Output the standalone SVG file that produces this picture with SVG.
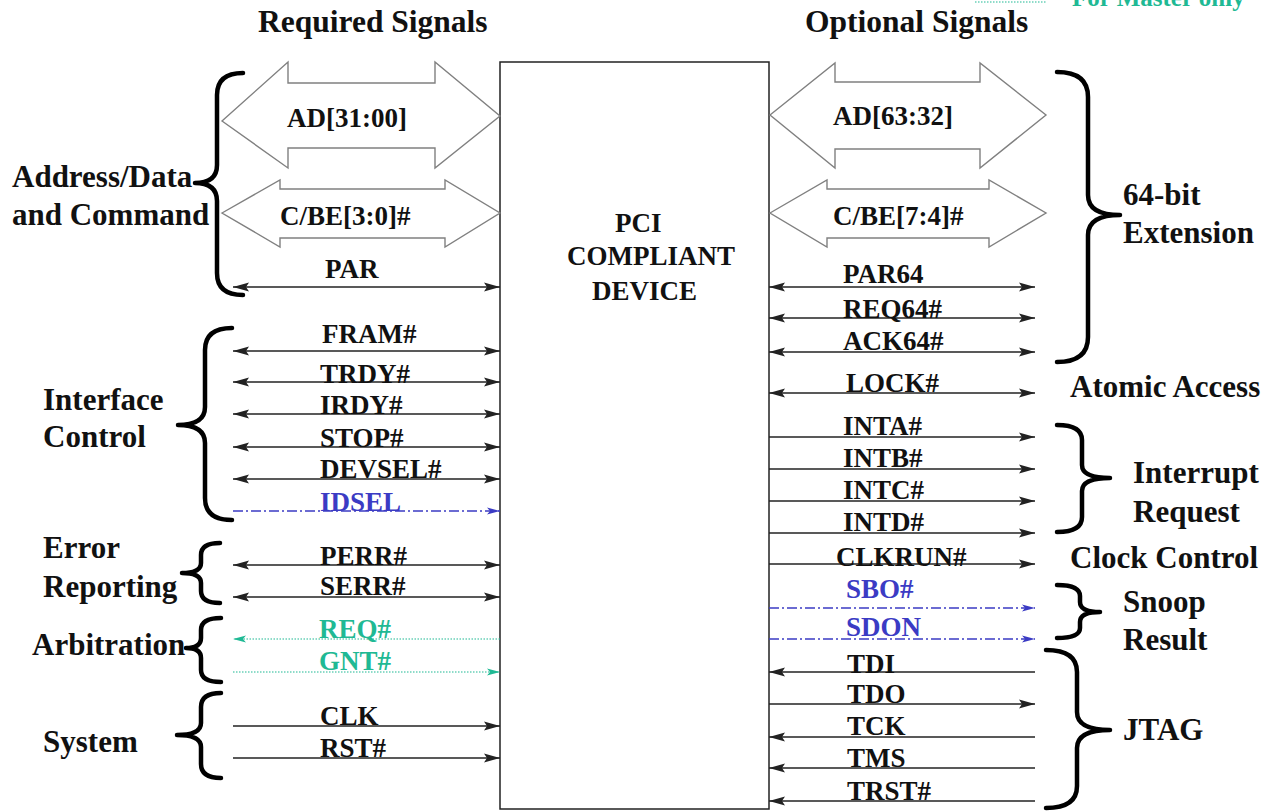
<svg xmlns="http://www.w3.org/2000/svg" width="1286" height="811" viewBox="0 0 1286 811" font-family="'Liberation Serif', 'Times New Roman', 'DejaVu Serif', serif">
<style>
text{font-family:'Liberation Serif','Times New Roman','DejaVu Serif',serif;font-weight:bold;fill:#111}
.t{font-size:31.5px}
.g{font-size:31px}
.s{font-size:27px}
.blue{fill:#3b3bc4}
.teal{fill:#1fb994}
.bus{fill:#fff;stroke:#808080;stroke-width:1.4}
.w{stroke:#222;stroke-width:1.5;fill:none}
.wb{stroke:#3b3bc4;stroke-width:1.3;fill:none;stroke-dasharray:10 3 2 3}
.wt{stroke:#1fb994;stroke-width:1.2;fill:none;stroke-dasharray:1.5 1.5}
.br{stroke:#000;stroke-width:4.5;fill:none;stroke-linecap:round;stroke-linejoin:round}
</style>
<defs>
<marker id="ah" markerUnits="userSpaceOnUse" markerWidth="16" markerHeight="10" viewBox="0 -5 16 10" refX="16" refY="0" orient="auto-start-reverse"><path d="M0,-4.5 L16,0 L0,4.5 L3,0 Z" fill="#222"/></marker>
<marker id="ahb" markerUnits="userSpaceOnUse" markerWidth="13" markerHeight="8" viewBox="0 -4 13 8" refX="13" refY="0" orient="auto-start-reverse"><path d="M0,-3.5 L13,0 L0,3.5 L3,0 Z" fill="#3b3bc4"/></marker>
<marker id="aht" markerUnits="userSpaceOnUse" markerWidth="13" markerHeight="8" viewBox="0 -4 13 8" refX="13" refY="0" orient="auto-start-reverse"><path d="M0,-3.5 L13,0 L0,3.5 L3,0 Z" fill="#1fb994"/></marker>
</defs>
<rect width="1286" height="811" fill="#fff"/>

<g id="titles">
<text class="t" x="258" y="32">Required Signals</text>
<text class="t" x="805" y="32">Optional Signals</text>
</g>
<g id="legend">
<line x1="975" y1="2" x2="1047" y2="2" class="wt"/>
<text class="teal" x="1072" y="6" style="font-size:25px">For Master only</text>
</g>

<g id="device">
<rect x="500" y="62" width="269" height="747" fill="#fff" stroke="#222" stroke-width="1.5"/>
<text class="s" x="615" y="232">PCI</text>
<text class="s" x="567" y="265">COMPLIANT</text>
<text class="s" x="592" y="300">DEVICE</text>
</g>

<g id="bus-ad-low">
<polygon class="bus" points="222,121 288,62 288,83 435,83 435,62 500,116 435,168 435,148 288,148 288,168"/>
<text class="s" x="287" y="127">AD[31:00]</text>
</g>
<g id="bus-cbe-low">
<polygon class="bus" points="222,213 280,180 280,189 445,189 445,180 500,213 445,247 445,238 280,238 280,247"/>
<text class="s" x="280" y="225">C/BE[3:0]#</text>
</g>
<g id="bus-ad-high">
<polygon class="bus" points="770,115 835,63 835,82 980,82 980,63 1046,115 980,168 980,149 835,149 835,168"/>
<text class="s" x="833" y="125">AD[63:32]</text>
</g>
<g id="bus-cbe-high">
<polygon class="bus" points="770,213 827,180 827,189 989,189 989,180 1046,213 989,247 989,238 827,238 827,247"/>
<text class="s" x="833" y="225">C/BE[7:4]#</text>
</g>

<g id="connectors">
<line x1="233" y1="287" x2="500" y2="287" class="w" marker-start="url(#ah)" marker-end="url(#ah)"/>
<line x1="233" y1="351" x2="500" y2="351" class="w" marker-start="url(#ah)" marker-end="url(#ah)"/>
<line x1="233" y1="382" x2="500" y2="382" class="w" marker-start="url(#ah)" marker-end="url(#ah)"/>
<line x1="233" y1="414" x2="500" y2="414" class="w" marker-start="url(#ah)" marker-end="url(#ah)"/>
<line x1="233" y1="447" x2="500" y2="447" class="w" marker-start="url(#ah)" marker-end="url(#ah)"/>
<line x1="233" y1="479" x2="500" y2="479" class="w" marker-start="url(#ah)" marker-end="url(#ah)"/>
<line x1="233" y1="511" x2="500" y2="511" class="wb" marker-end="url(#ahb)"/>
<line x1="233" y1="565" x2="500" y2="565" class="w" marker-start="url(#ah)" marker-end="url(#ah)"/>
<line x1="233" y1="597" x2="500" y2="597" class="w" marker-start="url(#ah)" marker-end="url(#ah)"/>
<line x1="500" y1="639" x2="233" y2="639" class="wt" marker-end="url(#aht)"/>
<line x1="233" y1="672" x2="500" y2="672" class="wt" marker-end="url(#aht)"/>
<line x1="233" y1="726" x2="500" y2="726" class="w" marker-end="url(#ah)"/>
<line x1="233" y1="758" x2="500" y2="758" class="w" marker-end="url(#ah)"/>

<line x1="769" y1="287" x2="1035" y2="287" class="w" marker-start="url(#ah)" marker-end="url(#ah)"/>
<line x1="769" y1="318" x2="1035" y2="318" class="w" marker-start="url(#ah)" marker-end="url(#ah)"/>
<line x1="769" y1="352" x2="1035" y2="352" class="w" marker-start="url(#ah)" marker-end="url(#ah)"/>
<line x1="769" y1="393" x2="1035" y2="393" class="w" marker-start="url(#ah)" marker-end="url(#ah)"/>
<line x1="769" y1="437" x2="1035" y2="437" class="w" marker-end="url(#ah)"/>
<line x1="769" y1="469" x2="1035" y2="469" class="w" marker-end="url(#ah)"/>
<line x1="769" y1="501" x2="1035" y2="501" class="w" marker-end="url(#ah)"/>
<line x1="769" y1="533" x2="1035" y2="533" class="w" marker-end="url(#ah)"/>
<line x1="769" y1="564" x2="1035" y2="564" class="w" marker-end="url(#ah)"/>
<line x1="769" y1="608" x2="1035" y2="608" class="wb" marker-end="url(#ahb)"/>
<line x1="769" y1="639" x2="1035" y2="639" class="wb" marker-end="url(#ahb)"/>
<line x1="1035" y1="672" x2="769" y2="672" class="w" marker-end="url(#ah)"/>
<line x1="769" y1="704" x2="1035" y2="704" class="w" marker-end="url(#ah)"/>
<line x1="1035" y1="737" x2="769" y2="737" class="w" marker-end="url(#ah)"/>
<line x1="1035" y1="768" x2="769" y2="768" class="w" marker-end="url(#ah)"/>
<line x1="1035" y1="801" x2="769" y2="801" class="w" marker-end="url(#ah)"/>
</g>

<g id="signal-labels">
<text class="s" x="325" y="278">PAR</text>
<text class="s" x="322" y="343">FRAM#</text>
<text class="s" x="320" y="383">TRDY#</text>
<text class="s" x="320" y="414">IRDY#</text>
<text class="s" x="320" y="447">STOP#</text>
<text class="s" x="320" y="478">DEVSEL#</text>
<text class="s blue" x="320" y="511">IDSEL</text>
<text class="s" x="320" y="565">PERR#</text>
<text class="s" x="320" y="595">SERR#</text>
<text class="s teal" x="319" y="638">REQ#</text>
<text class="s teal" x="319" y="670">GNT#</text>
<text class="s" x="320" y="725">CLK</text>
<text class="s" x="320" y="757">RST#</text>

<text class="s" x="843" y="283">PAR64</text>
<text class="s" x="843" y="318">REQ64#</text>
<text class="s" x="843" y="350">ACK64#</text>
<text class="s" x="846" y="392">LOCK#</text>
<text class="s" x="843" y="435">INTA#</text>
<text class="s" x="843" y="467">INTB#</text>
<text class="s" x="843" y="499">INTC#</text>
<text class="s" x="843" y="531">INTD#</text>
<text class="s" x="836" y="566">CLKRUN#</text>
<text class="s blue" x="846" y="598">SBO#</text>
<text class="s blue" x="846" y="636">SDON</text>
<text class="s" x="847" y="673">TDI</text>
<text class="s" x="847" y="703">TDO</text>
<text class="s" x="847" y="735">TCK</text>
<text class="s" x="847" y="767">TMS</text>
<text class="s" x="847" y="800">TRST#</text>
</g>

<g id="group-address-data">
<path class="br" d="M243,73 Q217,73 217,95 L217,165 Q217,183 195,183 Q217,183 217,201 L217,273 Q217,295 243,295"/>
<text class="g" x="12" y="187">Address/Data</text>
<text class="g" x="12" y="225">and Command</text>
</g>
<g id="group-interface-control">
<path class="br" d="M232,328 Q205,328 205,350 L205,407 Q205,425 178,425 Q205,425 205,443 L205,498 Q205,520 232,520"/>
<text class="g" x="43" y="410">Interface</text>
<text class="g" x="43" y="447">Control</text>
</g>
<g id="group-error-reporting">
<path class="br" d="M220,543 Q201,543 201,555 L201,563 Q201,573 182,573 Q201,573 201,583 L201,591 Q201,603 220,603"/>
<text class="g" x="43" y="558">Error</text>
<text class="g" x="43" y="597">Reporting</text>
</g>
<g id="group-arbitration">
<path class="br" d="M221,618 Q201,618 201,630 L201,638 Q201,648 186,648 Q201,648 201,658 L201,670 Q201,682 221,682"/>
<text class="g" x="32" y="655">Arbitration</text>
</g>
<g id="group-system">
<path class="br" d="M221,693 Q201,693 201,707 L201,723 Q201,735 177,735 Q201,735 201,747 L201,764 Q201,778 221,778"/>
<text class="g" x="43" y="752">System</text>
</g>

<g id="group-64bit">
<path class="br" d="M1057,72 Q1088,72 1088,97 L1088,195 Q1088,215 1120,215 Q1088,215 1088,235 L1088,337 Q1088,362 1057,362"/>
<text class="g" x="1123" y="205">64-bit</text>
<text class="g" x="1123" y="243">Extension</text>
</g>
<g id="group-atomic">
<text class="g" x="1070" y="397">Atomic Access</text>
</g>
<g id="group-interrupt">
<path class="br" d="M1057,425 Q1082,425 1082,440 L1082,465 Q1082,478 1110,478 Q1082,478 1082,491 L1082,517 Q1082,532 1057,532"/>
<text class="g" x="1133" y="483">Interrupt</text>
<text class="g" x="1133" y="522">Request</text>
</g>
<g id="group-clock">
<text class="g" x="1070" y="568">Clock Control</text>
</g>
<g id="group-snoop">
<path class="br" d="M1057,585 Q1080,585 1080,596 L1080,602 Q1080,612 1100,612 Q1080,612 1080,622 L1080,628 Q1080,638 1057,638"/>
<text class="g" x="1123" y="612">Snoop</text>
<text class="g" x="1123" y="650">Result</text>
</g>
<g id="group-jtag">
<path class="br" d="M1046,650 Q1077,650 1077,672 L1077,712 Q1077,730 1110,730 Q1077,730 1077,748 L1077,786 Q1077,808 1046,808"/>
<text class="g" x="1123" y="740">JTAG</text>
</g>
</svg>
